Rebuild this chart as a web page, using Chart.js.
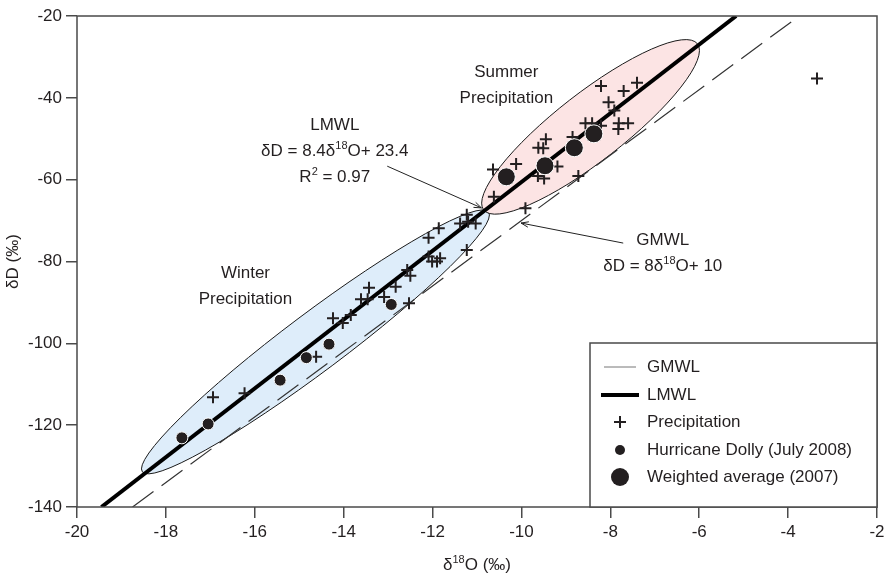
<!DOCTYPE html>
<html>
<head>
<meta charset="utf-8">
<script src="https://cdn.jsdelivr.net/npm/chart.js@4.4.1/dist/chart.umd.min.js"></script>
<style>
    html, body { margin: 0; padding: 0; background: #fff; overflow: hidden; }
    #wrap { position: relative; width: 887px; height: 576px; }
</style>
</head>
<body>
<div id="wrap"><canvas id="chart"></canvas></div>
<script>

// Tick Values
const xTickValues = [-20, -18, -16, -14, -12, -10, -8, -6, -4, -2];
const yTickValues = [-140, -120, -100, -80, -60, -40, -20];

// Precipitation (crosses)
const precipX = [
    -8.21, -7.70, -7.40, -8.04, -7.91, -8.56, -8.41, -8.21, -7.81, -7.60, -7.82,
    -9.45, -9.62, -9.51, -8.85, -10.12, -10.64, -9.19, -9.63, -9.49, -8.72, -10.62, -9.91,
    -3.35,
    -11.23, -11.38, -11.20, -11.03, -11.86, -12.09, -12.09, -12.01, -11.90, -11.83, -11.23,
    -12.57, -12.50, -12.83, -13.43, -13.61, -13.46, -13.09, -12.53, -13.84, -14.02, -14.24,
    -14.62, -16.23, -16.94
];
const precipY = [
    -37.1, -38.3, -36.3, -41.1, -43.1, -46.2, -46.2, -46.8, -46.2, -46.2, -47.6,
    -50.1, -52.2, -52.3, -49.6, -56.2, -57.5, -56.8, -59.1, -59.7, -59.1, -64.2, -67.0,
    -35.3,
    -68.6, -70.7, -70.3, -70.7, -71.9, -74.2, -78.8, -80.0, -80.0, -79.2, -77.2,
    -82.1, -83.5, -86.2, -86.4, -89.2, -89.2, -88.7, -90.2, -93.1, -95.0, -93.9,
    -103.3, -112.2, -113.2
];

// Hurricane Dolly (July 2008)
const dollyX = [-12.93, -14.33, -14.84, -15.43, -17.05, -17.64];
const dollyY = [-90.5, -100.2, -103.5, -109.0, -119.7, -123.1];

// Weighted Average (2007)
const weightedX = [-10.34, -9.47, -8.81, -8.37];
const weightedY = [-59.3, -56.6, -52.2, -48.8];

// Water Lines (end points)
const gmwlX = [-18.75, -3.75];
const gmwlY = [-140, -20];
const lmwlX = [-19.45, -5.17];
const lmwlY = [-140, -20];

// Style
const FONT = "'Liberation Sans', Arimo, Arial, sans-serif";
const INK = '#231f20';
const AXIS = '#4a4a4a';

// Annotations
const ellipses = [
    { from: [-18.53, -131.4], to: [-10.74, -67.9], halfWidth: 29, fill: '#deedfa' },
    { from: [-10.85, -67.4], to: [-6.04, -26.8], halfWidth: 34, fill: '#fce4e4' }
];
const arrows = [
    { from: [-13.02, -56.7], to: [-10.90, -66.9] },
    { from: [-7.71, -75.5], to: [-10.01, -70.6] }
];
const notes = [
    { at: [-10.34, -33.7], lines: [[{ t: 'Summer' }], [{ t: 'Precipitation' }]] },
    { at: [-16.21, -82.8], lines: [[{ t: 'Winter' }], [{ t: 'Precipitation' }]] },
    { at: [-14.20, -46.6], lines: [[{ t: 'LMWL' }], [{ t: 'δD = 8.4δ' }, { t: '18', sup: true }, { t: 'O+ 23.4' }], [{ t: 'R' }, { t: '2', sup: true }, { t: ' = 0.97' }]] },
    { at: [-6.82, -74.7], lines: [[{ t: 'GMWL' }], [{ t: 'δD = 8δ' }, { t: '18', sup: true }, { t: 'O+ 10' }]] }
];
const legendItems = ['GMWL', 'LMWL', 'Precipitation', 'Hurricane Dolly (July 2008)', 'Weighted average (2007)'];

// Build Points
const toPoints = function (xs, ys) {
    return xs.map((x, i) => ({ x: x, y: ys[i] }));
};

// Rich Text (superscripts)
const drawRich = function (ctx, parts, cx, cy, size) {

    const supSize = Math.round(size * 0.62);
    let total = 0;
    for (const p of parts) {
        ctx.font = (p.sup ? supSize : size) + 'px ' + FONT;
        total += ctx.measureText(p.t).width;
    }

    let x = cx - total / 2;
    ctx.textAlign = 'left';
    ctx.textBaseline = 'middle';
    for (const p of parts) {
        ctx.font = (p.sup ? supSize : size) + 'px ' + FONT;
        ctx.fillText(p.t, x, p.sup ? cy - size * 0.3 : cy);
        x += ctx.measureText(p.t).width;
    }

};

// Background Shapes
const shapesPlugin = {
    id: 'shapes',
    beforeDatasetsDraw: function (chart) {

        const ctx = chart.ctx;
        const sx = chart.scales.x;
        const sy = chart.scales.y;

        ctx.save();
        for (const e of ellipses) {
            const x1 = sx.getPixelForValue(e.from[0]);
            const y1 = sy.getPixelForValue(e.from[1]);
            const x2 = sx.getPixelForValue(e.to[0]);
            const y2 = sy.getPixelForValue(e.to[1]);
            ctx.beginPath();
            ctx.ellipse((x1 + x2) / 2, (y1 + y2) / 2, Math.hypot(x2 - x1, y2 - y1) / 2, e.halfWidth, Math.atan2(y2 - y1, x2 - x1), 0, Math.PI * 2);
            ctx.fillStyle = e.fill;
            ctx.fill();
            ctx.lineWidth = 1;
            ctx.strokeStyle = '#1a1a1a';
            ctx.stroke();
        }
        ctx.restore();

    },
    afterDraw: function (chart) {

        const ctx = chart.ctx;
        const sx = chart.scales.x;
        const sy = chart.scales.y;
        const area = chart.chartArea;

        ctx.save();

        // Arrows
        ctx.strokeStyle = '#222';
        ctx.lineWidth = 1;
        for (const a of arrows) {
            const x1 = sx.getPixelForValue(a.from[0]);
            const y1 = sy.getPixelForValue(a.from[1]);
            const x2 = sx.getPixelForValue(a.to[0]);
            const y2 = sy.getPixelForValue(a.to[1]);
            const ang = Math.atan2(y2 - y1, x2 - x1);
            ctx.beginPath();
            ctx.moveTo(x1, y1);
            ctx.lineTo(x2, y2);
            ctx.moveTo(x2 - 8 * Math.cos(ang - 0.35), y2 - 8 * Math.sin(ang - 0.35));
            ctx.lineTo(x2, y2);
            ctx.lineTo(x2 - 8 * Math.cos(ang + 0.35), y2 - 8 * Math.sin(ang + 0.35));
            ctx.stroke();
        }

        // Notes
        ctx.fillStyle = INK;
        for (const n of notes) {
            const cx = sx.getPixelForValue(n.at[0]);
            const cy = sy.getPixelForValue(n.at[1]);
            n.lines.forEach((line, i) => drawRich(ctx, line, cx, cy + i * 26, 17));
        }

        // Frame
        ctx.strokeStyle = AXIS;
        ctx.lineWidth = 1.5;
        ctx.strokeRect(area.left, area.top, area.right - area.left, area.bottom - area.top);

        // Legend Box
        const left = area.right - 287;
        const top = area.bottom - 164;
        ctx.fillStyle = '#fff';
        ctx.fillRect(left, top, area.right - left, area.bottom - top);
        ctx.strokeRect(left, top, area.right - left, area.bottom - top);

        const rows = [24, 52, 79, 107, 134];
        const mx = left + 30;

        // GMWL sample
        ctx.strokeStyle = '#777';
        ctx.lineWidth = 1;
        ctx.beginPath(); ctx.moveTo(mx - 16, top + rows[0]); ctx.lineTo(mx + 16, top + rows[0]); ctx.stroke();

        // LMWL sample
        ctx.strokeStyle = '#000';
        ctx.lineWidth = 4;
        ctx.beginPath(); ctx.moveTo(mx - 19, top + rows[1]); ctx.lineTo(mx + 19, top + rows[1]); ctx.stroke();

        // Precipitation sample
        ctx.strokeStyle = INK;
        ctx.lineWidth = 2;
        ctx.beginPath();
        ctx.moveTo(mx - 6, top + rows[2]); ctx.lineTo(mx + 6, top + rows[2]);
        ctx.moveTo(mx, top + rows[2] - 6); ctx.lineTo(mx, top + rows[2] + 6);
        ctx.stroke();

        // Dot samples
        ctx.fillStyle = INK;
        ctx.beginPath(); ctx.arc(mx, top + rows[3], 5, 0, Math.PI * 2); ctx.fill();
        ctx.beginPath(); ctx.arc(mx, top + rows[4], 9, 0, Math.PI * 2); ctx.fill();

        // Legend Text
        ctx.font = '17px ' + FONT;
        ctx.textAlign = 'left';
        ctx.textBaseline = 'middle';
        legendItems.forEach((label, i) => ctx.fillText(label, left + 57, top + rows[i]));

        // X Title
        drawRich(ctx, [{ t: 'δ' }, { t: '18', sup: true }, { t: 'O (‰)' }], (area.left + area.right) / 2, 565, 17);

        ctx.restore();

    }
};

// Create Chart
const ctx = document.getElementById('chart').getContext('2d');
const chart = new Chart(ctx, {
    type: 'scatter',
    data: {
        datasets: [

            // Weighted Average
            {
                label: 'Weighted average (2007)',
                data: toPoints(weightedX, weightedY),
                pointStyle: 'circle',
                pointRadius: 9,
                backgroundColor: INK,
                borderColor: '#fff',
                borderWidth: 1,
                order: 1
            },

            // Hurricane Dolly
            {
                label: 'Hurricane Dolly (July 2008)',
                data: toPoints(dollyX, dollyY),
                pointStyle: 'circle',
                pointRadius: 6,
                backgroundColor: INK,
                borderColor: '#fff',
                borderWidth: 1,
                order: 2
            },

            // Precipitation
            {
                label: 'Precipitation',
                data: toPoints(precipX, precipY),
                pointStyle: 'cross',
                pointRadius: 6,
                borderColor: INK,
                borderWidth: 2,
                order: 3
            },

            // LMWL
            {
                label: 'LMWL',
                data: toPoints(lmwlX, lmwlY),
                showLine: true,
                pointRadius: 0,
                borderColor: '#000',
                borderWidth: 4,
                order: 4
            },

            // GMWL
            {
                label: 'GMWL',
                data: toPoints(gmwlX, gmwlY),
                showLine: true,
                pointRadius: 0,
                borderColor: '#333',
                borderWidth: 1.2,
                borderDash: [26, 10],
                order: 5
            }
        ]
    },
    options: {
        responsive: true,
        maintainAspectRatio: false,
        animation: false,
        layout: { padding: { left: 0, right: 3, top: 16, bottom: 0 } },
        plugins: {
            legend: { display: false },
            tooltip: { enabled: false }
        },
        scales: {
            x: {
                type: 'linear',
                min: -20,
                max: -2,
                afterBuildTicks: function (s) { s.ticks = xTickValues.map(v => ({ value: v })); },
                afterFit: function (s) { s.height = 69; s.paddingLeft = 0; s.paddingRight = 0; },
                border: { display: false },
                grid: { drawOnChartArea: false, drawTicks: true, tickLength: 11, color: AXIS, lineWidth: 1.5 },
                ticks: { color: INK, font: { family: FONT, size: 17 }, padding: 4, maxRotation: 0 }
            },
            y: {
                type: 'linear',
                min: -140,
                max: -20,
                afterBuildTicks: function (s) { s.ticks = yTickValues.map(v => ({ value: v })); },
                afterFit: function (s) { s.width = 77; s.paddingTop = 0; s.paddingBottom = 0; },
                border: { display: false },
                grid: { drawOnChartArea: false, drawTicks: true, tickLength: 11, color: AXIS, lineWidth: 1.5 },
                ticks: { color: INK, font: { family: FONT, size: 17 }, padding: 4 },
                title: { display: true, text: 'δD (‰)', color: INK, font: { family: FONT, size: 17 }, padding: { top: 3, bottom: 0 } }
            }
        }
    },
    plugins: [shapesPlugin]
});

</script>
</body>
</html>
